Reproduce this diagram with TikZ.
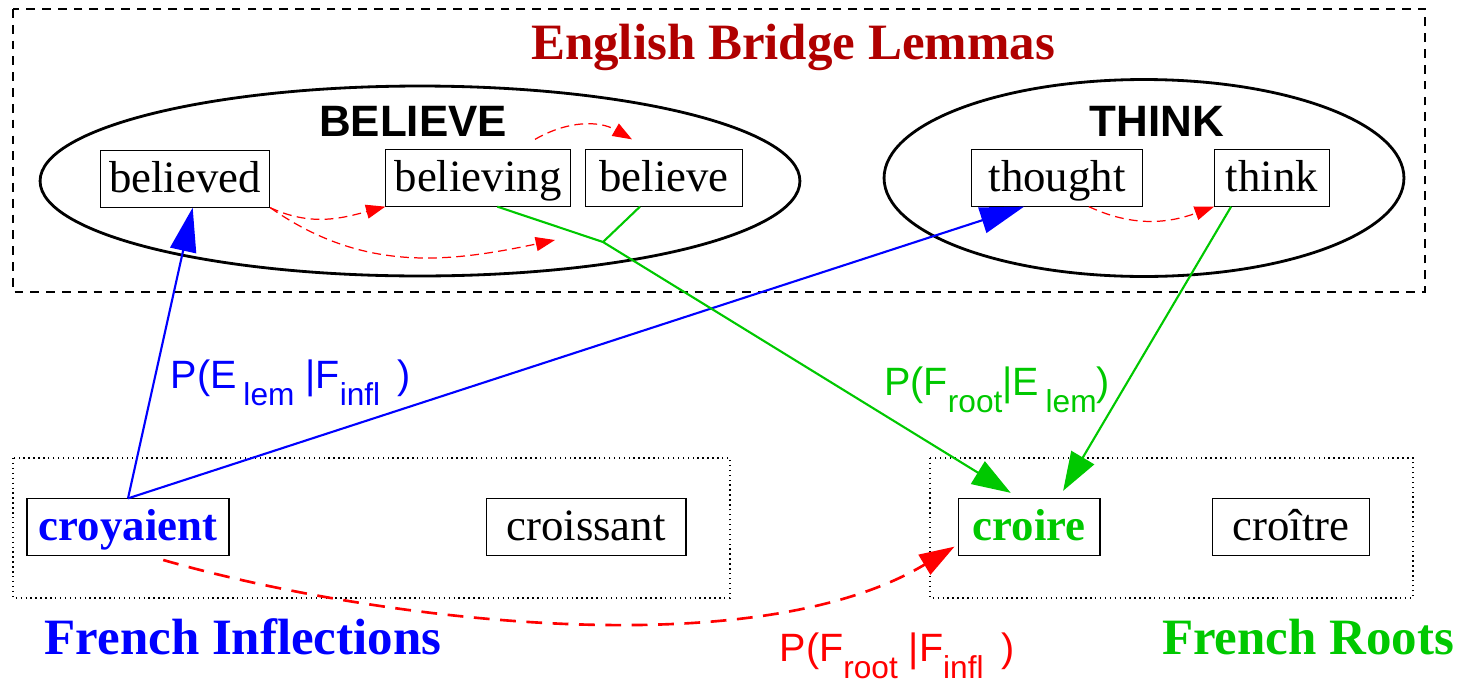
\documentclass[tikz,border=0pt]{standalone}
\usepackage{fontspec}
\setmainfont{Liberation Serif}
\setsansfont{Liberation Sans}
\usetikzlibrary{arrows.meta, shapes.geometric, calc}
\definecolor{lemred}{RGB}{176, 0, 0}
\definecolor{rootgreen}{RGB}{0, 200, 0}
\definecolor{inflblue}{RGB}{0, 0, 255}
\definecolor{linkred}{RGB}{255, 0, 0}
\newcommand{\lowsub}[1]{\raisebox{-0.42em}{\fontsize{18}{18}\selectfont #1}}

\begin{document}
\begin{tikzpicture}[x=0.02cm, y=-0.02cm,
    word/.style={draw, line width=0.6pt, inner xsep=5pt, inner ysep=0pt, minimum height=32pt,
      text height=19.5pt, text depth=4.5pt, font=\fontsize{25.5}{30}\selectfont},
    wordbold/.style={word, font=\bfseries\fontsize{25.5}{30}\selectfont},
    lemma/.style={draw, ellipse, line width=1.6pt, inner sep=0pt},
    setname/.style={font=\sffamily\bfseries\fontsize{25}{30}\selectfont},
    group/.style={font=\bfseries\fontsize{29}{34}\selectfont},
    prob/.style={font=\sffamily\fontsize{22.5}{27}\selectfont},
    bluelink/.style={inflblue, line width=1.2pt, -{Triangle[length=25pt, width=15pt]}},
    greenline/.style={rootgreen, line width=1.2pt},
    greenlink/.style={greenline, -{Triangle[length=22pt, width=15pt]}},
    reddash/.style={linkred, line width=0.7pt, dash pattern=on 5pt off 3pt, -{Triangle[length=11pt, width=8pt]}},
    redlink/.style={linkred, line width=1.5pt, dash pattern=on 9pt off 6pt, -{Triangle[length=20pt, width=13pt]}}]
  \useasboundingbox (0,0) rectangle (1459,683);

  % English lemmas
  \draw[line width=0.6pt, dash pattern=on 5pt off 4pt] (13,9) rectangle (1425,292);
  \node[group, text=lemred] (bridgetitle) at (793,47) {English Bridge Lemmas};
  \node[lemma, minimum width=15.2cm, minimum height=3.8cm] (believeset) at (420,181) {};
  \node[lemma, minimum width=10.4cm, minimum height=3.94cm] (thinkset) at (1144,178) {};
  \node[setname] (believename) at (413,121) {BELIEVE};
  \node[setname] (thinkname) at (1157,121) {THINK};
  \node[word] (believed) at (185,179) {believed};
  \node[word] (believing) at (478,178) {believing};
  \node[word, minimum width=3.14cm] (believe) at (664,178) {believe};
  \node[word, minimum width=3.42cm] (thought) at (1057,178) {thought};
  \node[word, minimum width=2.3cm] (think) at (1272,178) {think};

  % French words
  \draw[line width=0.8pt, dotted] (13,458) rectangle (730,598);
  \draw[line width=0.8pt, dotted] (930,458) rectangle (1413,598);
  \node[wordbold, text=inflblue, minimum width=4.04cm] (croyaient) at (128,527) {croyaient};
  \node[word, minimum width=4cm] (croissant) at (586,527) {croissant};
  \node[wordbold, text=rootgreen, minimum width=2.84cm] (croire) at (1029,527) {croire};
  \node[word, minimum width=3.14cm] (croitre) at (1291,527) {croître};
  \node[group, text=inflblue] (infltitle) at (243,637) {French Inflections};
  \node[group, text=rootgreen] (roottitle) at (1308,637) {French Roots};

  % lemma links
  \coordinate (lemend) at (555,240);
  \draw[reddash] (believed.south east) to[out=-25, in=195] (believing.south west);
  \draw[reddash] (believed.south east) to[out=-35, in=192] (lemend);
  \draw[reddash] ([shift={(57,-10)}]believing.north) to[out=30, in=150] ([shift={(-32,-10)}]believe.north);
  \draw[reddash] (thought.-42) to[out=-25, in=200] (think.south west);

  % translation links
  \draw[bluelink] (croyaient.north) -- (believed.285);
  \draw[bluelink] (croyaient.north) -- (thought.221);
  \coordinate (merge) at (603,242);
  \draw[greenline] (believing.-56) -- (merge);
  \draw[greenline] (believe.230) -- (merge);
  \draw[greenlink, shorten >=6pt] (merge) -- (croire.108);
  \draw[greenlink, shorten >=5pt] (think.215) -- (croire.44);
  \draw[redlink, shorten <=9pt, shorten >=2pt] (croyaient.-55) to[out=-16, in=211, looseness=0.75] (croire.194);

  % probabilities
  \node[prob, text=inflblue] (elemlabel) at (291,383) {P(E\,\lowsub{lem} |F\lowsub{infl}\, )};
  \node[prob, text=rootgreen] (frootlabel) at (997,390) {P(F\lowsub{root}|E\,\lowsub{lem})};
  \node[prob, text=linkred] (finfllabel) at (897,656) {P(F\lowsub{root} |F\lowsub{infl}\ \,)};
\end{tikzpicture}
\end{document}
